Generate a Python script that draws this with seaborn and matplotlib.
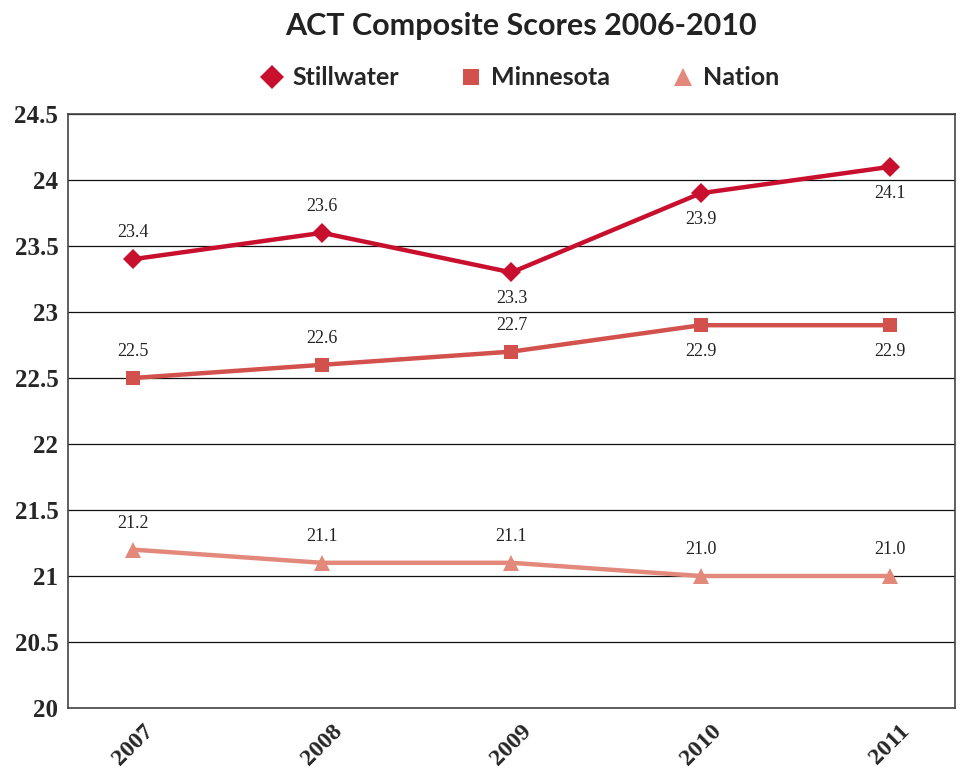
import matplotlib
matplotlib.use("Agg")
import matplotlib.pyplot as plt
import numpy as np
import pandas as pd
import seaborn as sns

years = ["2007", "2008", "2009", "2010", "2011"]
stillwater = [23.4, 23.6, 23.3, 23.9, 24.1]
minnesota = [22.5, 22.6, 22.7, 22.9, 22.9]
nation = [21.2, 21.1, 21.1, 21.0, 21.0]

series = ["Stillwater", "Minnesota", "Nation"]
colors = {"Stillwater": "#C8102E", "Minnesota": "#D3514C", "Nation": "#E3897C"}
markers = {"Stillwater": "D", "Minnesota": "s", "Nation": "^"}
msizes = {"Stillwater": 10, "Minnesota": 10, "Nation": 11}
# label placement: +1 above, -1 below
label_side = {
    "Stillwater": [1, 1, -1, -1, -1],
    "Minnesota": [1, 1, 1, -1, -1],
    "Nation": [1, 1, 1, 1, 1],
}

df = pd.DataFrame({
    "year": years * 3,
    "score": stillwater + minnesota + nation,
    "group": [s for s in series for _ in years],
})
df["x"] = df["year"].map({y: i for i, y in enumerate(years)})

sns.set_style("white")

fig = plt.figure(figsize=(9.62, 7.72), dpi=100)
ax = fig.add_axes([0.0707, 0.0829, 0.922, 0.7694])

for g in series:
    sub = df[df["group"] == g]
    sns.lineplot(data=sub, x="x", y="score", ax=ax, color=colors[g], lw=3.2,
                 marker=markers[g], markersize=msizes[g], markeredgewidth=0,
                 label=g, legend=False)
    for xi, v, side in zip(sub["x"], sub["score"], label_side[g]):
        ax.annotate(f"{v:.1f}", (xi, v), xytext=(0, 19 * side), textcoords="offset points",
                    ha="center", va="center", fontsize=13, family="Liberation Serif",
                    color="#222222")

ax.set_ylim(20, 24.5)
ax.set_yticks(np.arange(20, 24.51, 0.5))
ax.set_yticklabels([f"{t:g}" for t in np.arange(20, 24.51, 0.5)],
                   family="Liberation Serif", fontweight="bold", fontsize=18)
ax.set_xlim(-0.343, 4.343)
ax.set_xticks(range(len(years)))
ax.set_xticklabels(years, rotation=45, ha="center", va="top",
                   family="Liberation Serif", fontweight="bold", fontsize=17.5)
ax.tick_params(axis="x", pad=9, length=0)
ax.tick_params(axis="y", pad=7, length=0)
ax.set_xlabel("")
ax.set_ylabel("")
ax.grid(axis="y", color="#111111", lw=0.9)
for sp in ax.spines.values():
    sp.set_color("#444444")
    sp.set_linewidth(1.2)

handles = [plt.Line2D([], [], ls="none", marker=markers[g], color=colors[g],
                      markersize=msizes[g] + 2, markeredgewidth=0) for g in series]
fig.legend(handles, series, loc="center", bbox_to_anchor=(0.54, 0.899), ncol=3,
           frameon=False, prop={"family": "Lato", "weight": "bold", "size": 18},
           handletextpad=0.3, columnspacing=2.4, handlelength=1.0)

fig.suptitle("ACT Composite Scores 2006-2010", x=0.542, y=0.985, family="Lato",
             fontweight="bold", fontsize=22, color="#222222")

fig.savefig("out.png", dpi=100, facecolor="white")
